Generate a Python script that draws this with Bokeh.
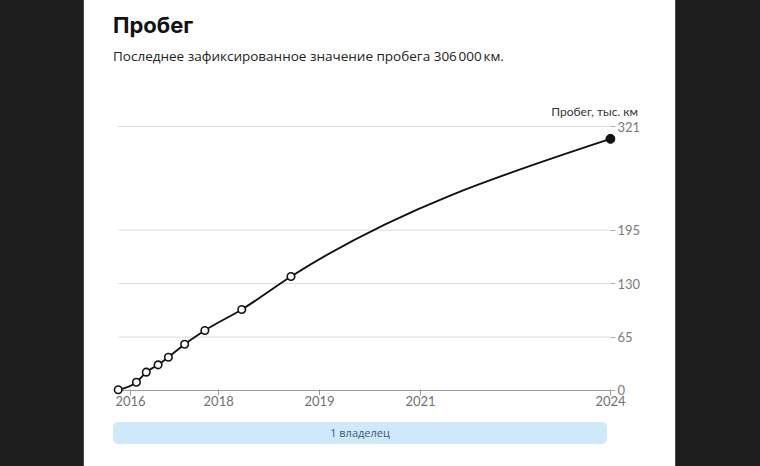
from bokeh.plotting import figure
from bokeh.models import FixedTicker, Range1d, Div
from bokeh.layouts import column
from bokeh.embed import file_html
from bokeh.resources import INLINE

# ---------------- data ----------------
positions = [0, 3.7, 5.7, 8.1, 10.2, 13.5, 17.6, 25.1, 35.1, 100]        # timeline position
mileage = [1, 10.1, 22.3, 31.2, 40.5, 56.3, 73.0, 98.5, 138.6, 306]     # thousand km
year_tick_pos = [2.5, 20.4, 40.9, 61.4, 100]
year_labels = ["2016", "2018", "2019", "2021", "2024"]
mileage_ticks = [0, 65, 130, 195, 321]
title_text = "Пробег"
subtitle_text = "Последнее зафиксированное значение пробега 306\u202f000\u202fкм."
axis_title = "Пробег, тыс. км"
owners_text = "1 владелец"

W = 591
HEAD_H, FIG_H, FOOT_H = 118, 299, 49

# ---------------- header (title, subtitle, axis title) ----------------
head_html = f"""
<div style="position:relative;width:{W}px;height:{HEAD_H}px;overflow:hidden;">
  <div style="position:absolute;left:29px;top:14px;font-family:Inter;font-weight:700;
              font-size:22px;line-height:22px;color:#111;white-space:nowrap;">{title_text}</div>
  <div style="position:absolute;left:29px;top:50px;font-family:'Open Sans';font-size:13.5px;
              line-height:13.5px;color:#222;white-space:nowrap;">{subtitle_text}</div>
  <div style="position:absolute;right:37px;top:106px;font-family:Lato;font-size:12px;
              line-height:12px;color:#333;white-space:nowrap;">{axis_title}</div>
</div>"""
head = Div(text=head_html, width=W, height=HEAD_H, margin=0,
           styles={"background-color": "white"})

# ---------------- chart ----------------
p = figure(width=W, height=FIG_H, title=None,
           x_range=Range1d(-1.16, 101.02), y_range=Range1d(-6.08, 328.3),
           output_backend="svg", toolbar_location=None,
           y_axis_location="right",
           min_border_left=28, min_border_right=60,
           min_border_top=2, min_border_bottom=22,
           background_fill_color="white", border_fill_color="white",
           outline_line_color=None, margin=0)
p.grid.visible = False

gl = mileage_ticks[1:]
p.segment(x0=[positions[0]] * len(gl), y0=gl, x1=[positions[-1]] * len(gl), y1=gl,
          line_color="#dcdcdc", line_width=1)
p.segment(x0=[positions[0] - 0.4], y0=[mileage_ticks[0]], x1=[positions[-1]], y1=[mileage_ticks[0]],
          line_color="#9a9a9a", line_width=1.2)

# monotone-x curve through the points, drawn as bezier segments
def sgn(v):
    return -1 if v < 0 else 1

xs, ys = positions, mileage
n = len(xs)
sl = [(ys[i + 1] - ys[i]) / (xs[i + 1] - xs[i]) for i in range(n - 1)]
t = [0.0] * n
for i in range(1, n - 1):
    h0 = xs[i] - xs[i - 1]
    h1 = xs[i + 1] - xs[i]
    s0, s1 = sl[i - 1], sl[i]
    pp = (s0 * h1 + s1 * h0) / (h0 + h1)
    t[i] = (sgn(s0) + sgn(s1)) * min(abs(s0), abs(s1), 0.5 * abs(pp))
t[0] = (3 * sl[0] - t[1]) / 2
t[-1] = (3 * sl[-1] - t[-2]) / 2
bx0, by0, bx1, by1, c0x, c0y, c1x, c1y = [], [], [], [], [], [], [], []
for i in range(n - 1):
    dx = (xs[i + 1] - xs[i]) / 3
    bx0.append(xs[i]); by0.append(ys[i])
    bx1.append(xs[i + 1]); by1.append(ys[i + 1])
    c0x.append(xs[i] + dx); c0y.append(ys[i] + dx * t[i])
    c1x.append(xs[i + 1] - dx); c1y.append(ys[i + 1] - dx * t[i + 1])
p.bezier(x0=bx0, y0=by0, x1=bx1, y1=by1, cx0=c0x, cy0=c0y, cx1=c1x, cy1=c1y,
         line_color="#111111", line_width=1.9)

p.scatter(positions[:-1], mileage[:-1], size=7.5, marker="circle",
          fill_color="white", line_color="#111111", line_width=1.6)
p.scatter(positions[-1:], mileage[-1:], size=9, marker="circle",
          fill_color="#111111", line_color="#111111")

# axes
xa = p.xaxis[0]
xa.ticker = FixedTicker(ticks=year_tick_pos)
xa.major_label_overrides = {tp: lab for tp, lab in zip(year_tick_pos, year_labels)}
xa.axis_line_color = None
xa.major_tick_in = 6
xa.major_tick_out = 0
xa.major_tick_line_color = "#9a9a9a"
xa.minor_tick_line_color = None
xa.major_label_standoff = 0
xa.major_label_text_font = "Lato"
xa.major_label_text_font_size = "13px"
xa.major_label_text_color = "#6f6f6f"

ya = p.yaxis[0]
ya.ticker = FixedTicker(ticks=mileage_ticks)
ya.axis_line_color = None
ya.major_tick_in = 5
ya.major_tick_out = 0
ya.major_tick_line_color = "#b0b0b0"
ya.minor_tick_line_color = None
ya.major_label_standoff = 2
ya.major_label_text_font = "Lato"
ya.major_label_text_font_size = "13px"
ya.major_label_text_color = "#7a7a7a"

# ---------------- footer (owners band) ----------------
foot_html = f"""
<div style="position:relative;width:{W}px;height:{FOOT_H}px;overflow:hidden;">
  <div style="position:absolute;left:29px;top:5px;width:494px;height:22px;background:#cfe8fa;
              border-radius:5px;text-align:center;line-height:22px;font-family:'Open Sans';
              font-size:11px;color:#3d5a73;">{owners_text}</div>
</div>"""
foot = Div(text=foot_html, width=W, height=FOOT_H, margin=0,
           styles={"background-color": "white"})

layout = column(head, p, foot, spacing=0, margin=0,
                styles={"background-color": "white", "box-shadow": "0 0 0 1px #4a4a4a"})

html = file_html(layout, INLINE, title="Пробег")
i = html.rfind("<body")
j = html.index(">", i)
html = html[:i] + '<body style="margin:0;padding:0 0 0 84px;background:#1e1e1e;">' + html[j + 1:]
open("out.html", "w", encoding="utf-8").write(html)
